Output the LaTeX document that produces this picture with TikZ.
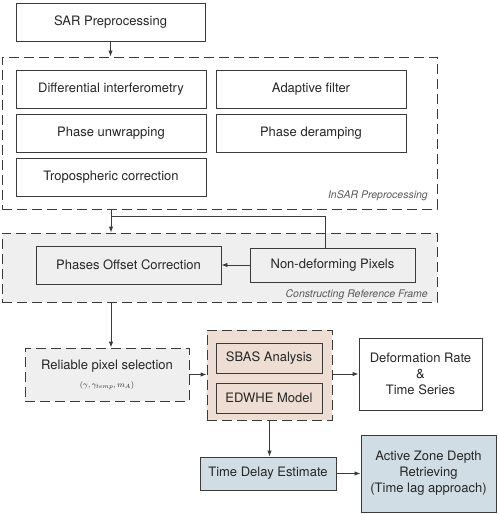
\documentclass[tikz,border=0pt]{standalone}
\usepackage{fontspec}
\setmainfont{TeX Gyre Heros}
\usetikzlibrary{arrows.meta,calc}
\definecolor{lc}{HTML}{3A3A3A}
\definecolor{grayfill}{HTML}{EFEFEF}
\definecolor{beige}{HTML}{EEDDD2}
\definecolor{bluegray}{HTML}{D1DDE5}
\tikzset{
  box/.style={draw=lc, line width=0.9pt, rectangle, inner sep=0pt, align=center, font=\fontsize{13}{16}\selectfont, text=black!85},
  grp/.style={draw=lc, line width=0.9pt, rectangle, dash pattern=on 10pt off 5pt, inner sep=0pt},
  grplabel/.style={font=\fontsize{10.5}{12}\selectfont\itshape, text=black!65, inner sep=0pt},
  arr/.style={draw=lc, line width=0.9pt, -{Latex[length=6pt,width=4.5pt]}},
  ln/.style={draw=lc, line width=0.9pt},
}
\begin{document}
\begin{tikzpicture}[x=1pt,y=-1pt]
\useasboundingbox (0,0) rectangle (498,514);
% groups
\node[grp, minimum width=435pt, minimum height=152pt] (insar) at (219.5,133) {};
\node[grp, fill=grayfill, minimum width=435pt, minimum height=69pt] (crf) at (219.5,267.5) {};
\node[grp, fill=beige, minimum width=125pt, minimum height=90pt] (sbasgrp) at (269.5,375) {};
% boxes
\node[box, minimum width=189pt, minimum height=38pt] (sar) at (110.5,22) {SAR Preprocessing};
\node[box, minimum width=190pt, minimum height=38pt] (diff) at (111,89) {Differential interferometry};
\node[box, minimum width=190pt, minimum height=38pt] (adapt) at (311,89) {Adaptive filter};
\node[box, minimum width=190pt, minimum height=38pt] (unwrap) at (111,133) {Phase unwrapping};
\node[box, minimum width=190pt, minimum height=38pt] (deramp) at (311,133) {Phase deramping};
\node[box, minimum width=190pt, minimum height=38pt] (tropo) at (111,177) {Tropospheric correction};
\node[grplabel, anchor=base east] (insarlbl) at (428,198) {InSAR Preprocessing};
\node[box, fill=grayfill, minimum width=185pt, minimum height=38pt] (poc) at (128.5,265) {Phases Offset Correction};
\node[box, minimum width=165pt, minimum height=34pt] (ndp) at (332.5,265) {Non-deforming Pixels};
\node[grplabel, anchor=base east] (crflbl) at (428,297) {Constructing Reference Frame};
\node[box, grp, fill=grayfill, minimum width=164pt, minimum height=53pt] (rel) at (107,374.5) {Reliable pixel selection\\[2pt]{\fontsize{8.5}{9}\selectfont$(\gamma,\gamma_{temp},m_A)$}};
\node[box, fill=beige, minimum width=106pt, minimum height=30pt] (sbas) at (269,358.5) {SBAS Analysis};
\node[box, fill=beige, minimum width=106pt, minimum height=30pt] (edwhe) at (269,398) {EDWHE Model};
\node[box, minimum width=123pt, minimum height=72pt] (deform) at (420.5,374) {Deformation Rate\\\&\\Time Series};
\node[box, fill=bluegray, minimum width=136pt, minimum height=33pt] (tde) at (268,473.5) {Time Delay Estimate};
\node[box, fill=bluegray, minimum width=135pt, minimum height=77pt] (azd) at (428.5,473.5) {Active Zone Depth\\Retrieving\\(Time lag approach)};
% connectors
\coordinate (j) at (111,216);
\draw[arr] (sar.south) -- (sar.south |- insar.north);
\draw[ln] (j |- insar.south) -- (j);
\draw[arr] ([xshift=-7pt]ndp.north) |- (j) -- (j |- crf.north);
\draw[arr] (ndp.west) -- (poc.east);
\draw[arr] (j |- crf.south) -- (j |- rel.north);
\draw[arr] (rel.east) -- (sbasgrp.west |- rel.east);
\draw[arr] (sbasgrp.east |- deform.west) -- (deform.west);
\draw[arr] (sbasgrp.south) -- (sbasgrp.south |- tde.north);
\draw[arr] (tde.east) -- (tde.east -| azd.west);
\end{tikzpicture}
\end{document}
